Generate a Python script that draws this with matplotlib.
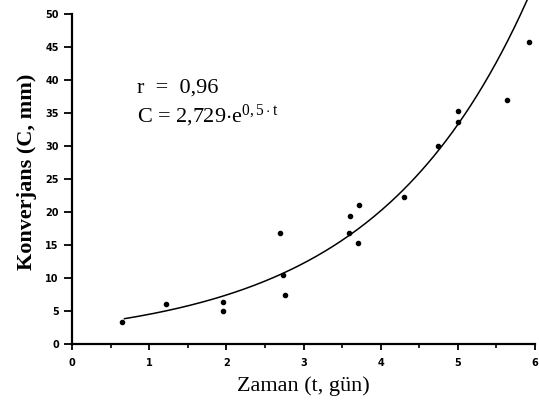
import numpy as np
import matplotlib
matplotlib.use("Agg")
import matplotlib.pyplot as plt

plt.rcParams['mathtext.fontset'] = 'custom'
plt.rcParams['mathtext.rm'] = 'Liberation Serif'
plt.rcParams['mathtext.it'] = 'Liberation Serif'
plt.rcParams['mathtext.bf'] = 'Liberation Serif:bold'

# Data
t_points = [0.65, 1.22, 1.96, 1.96, 2.70, 2.74, 2.76, 3.60, 3.59, 3.72, 3.71,
            4.30, 4.74, 5.00, 5.00, 5.64, 5.92]
c_points = [3.3, 6.1, 6.4, 5.0, 16.8, 10.5, 7.4, 19.4, 16.8, 21.1, 15.3,
            22.3, 30.0, 35.3, 33.6, 37.0, 45.8]
fit_a = 2.729
fit_b = 0.5
fit_t_start = 0.68
fit_t_end = 6.0
x_ticks = [0, 1, 2, 3, 4, 5, 6]
y_ticks = [0, 5, 10, 15, 20, 25, 30, 35, 40, 45, 50]

fig = plt.figure(figsize=(5.39, 4.09), dpi=100)
ax = fig.add_axes([72/539, 1 - 344/409, (535 - 72)/539, 344/409])

t_fit = np.linspace(fit_t_start, fit_t_end, 200)
ax.plot(t_fit, fit_a * np.exp(fit_b * t_fit), color='black', lw=1.1)
ax.scatter(t_points, c_points, s=9, color='black', zorder=3)

ax.set_xlim(0, 6)
ax.set_ylim(0, 52.1)
ax.spines['top'].set_visible(False)
ax.spines['right'].set_visible(False)
ax.spines['left'].set_bounds(0, 50)
ax.spines['left'].set_linewidth(1.6)
ax.spines['bottom'].set_linewidth(1.6)

ax.set_xticks(x_ticks)
ax.set_xticks(np.arange(0.5, 6, 1.0), minor=True)
ax.set_yticks(y_ticks)
ax.tick_params(axis='both', which='major', direction='out', width=1.3,
               labelsize=7)
ax.tick_params(axis='y', which='major', length=6)
ax.tick_params(axis='x', which='major', length=4, pad=6)
ax.tick_params(axis='x', which='minor', direction='out', length=3, width=1.2)
for lab in ax.get_xticklabels() + ax.get_yticklabels():
    lab.set_fontweight('bold')
    lab.set_family('DejaVu Sans')

ax.set_xlabel('Zaman (t, gün)', family='Liberation Serif', fontsize=16, labelpad=6)
ax.set_ylabel('Konverjans (C, mm)', family='Liberation Serif', fontsize=16,
              fontweight='bold', labelpad=6)

ax.text(0.84, 38.8, 'r  =  0,96', family='Liberation Serif', fontsize=16,
        va='center', ha='left')
ax.text(0.84, 34.6, r'C = 2,729$\cdot$e$^{0,5\cdot t}$', family='Liberation Serif',
        fontsize=16, va='center', ha='left')

fig.savefig('out.png', dpi=100)
